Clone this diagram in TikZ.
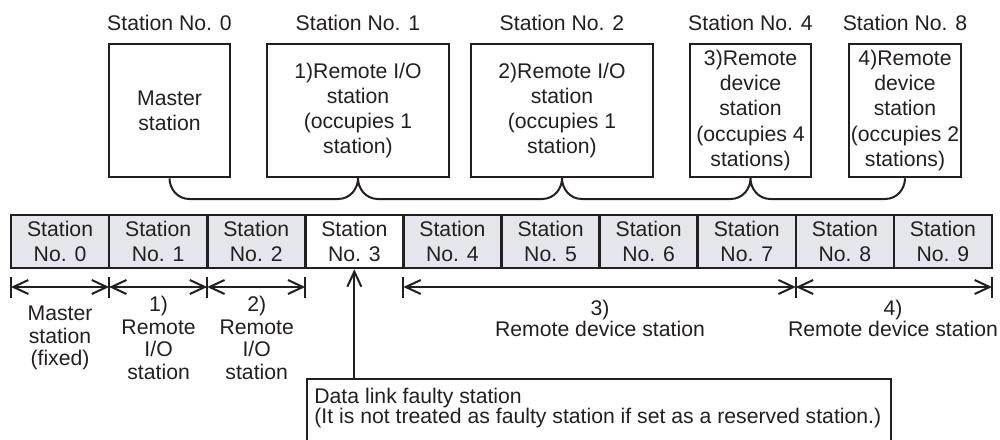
\documentclass[tikz,border=0pt]{standalone}
\usepackage{fontspec}
\setmainfont{Liberation Sans}
\usetikzlibrary{arrows.meta}
\definecolor{ink}{RGB}{35,31,32}
\definecolor{cellfill}{RGB}{228,230,235}
\tikzset{
  txt/.style={font=\fontsize{10.6}{12.6}\selectfont, text=ink, align=center, inner sep=0pt},
  topbox/.style={txt, draw=ink, line width=1.3pt, minimum height=66.5pt},
  cell/.style={txt, draw=ink, line width=1.3pt, minimum width=49.05pt, minimum height=26.5pt},
  toplabel/.style={txt, anchor=base, yshift=6.25pt},
  lbl/.style={txt, font=\fontsize{10.6}{11.3}\selectfont},
  lblwide/.style={txt, font=\fontsize{10.6}{10.5}\selectfont},
  brace/.style={draw=ink, line width=1pt},
  dim/.style={draw=ink, line width=1pt, >={Straight Barb[length=7.5pt,width=7pt]}},
  tick/.style={draw=ink, line width=1pt},
}
\begin{document}
\begin{tikzpicture}[x=0.5pt,y=-0.5pt]
\useasboundingbox (0,0) rectangle (1000,439);
\clip (0,0) rectangle (1000,439);

% top station boxes
\node[topbox, minimum width=60.5pt] (t0) at (169.5,110.5) {Master\\station};
\node[topbox, minimum width=91pt] (t1) at (358,110.5) {1)Remote I/O\\station\\(occupies 1\\station)};
\node[topbox, minimum width=91pt] (t2) at (562,110.5) {2)Remote I/O\\station\\(occupies 1\\station)};
\node[topbox, minimum width=60.5pt] (t4) at (750.5,110.5) {3)Remote\\device\\station\\(occupies 4\\stations)};
\node[topbox, minimum width=56pt] (t8) at (905,110.5) {4)Remote\\device\\station\\(occupies 2\\stations)};

\node[toplabel] (l0) at (t0.north) {Station No. 0};
\node[toplabel] (l1) at (t1.north) {Station No. 1};
\node[toplabel] (l2) at (t2.north) {Station No. 2};
\node[toplabel] (l4) at (t4.north) {Station No. 4};
\node[toplabel] (l8) at (t8.north) {Station No. 8};

% brace connecting the stations
\draw[brace] (t0.south) .. controls (169.5,189) and (177.5,199) .. (189.5,199)
  -- (338,199) .. controls (350,199) and (358,189) .. (t1.south)
  .. controls (358,189) and (366,199) .. (378,199)
  -- (542,199) .. controls (554,199) and (562,189) .. (t2.south)
  .. controls (562,189) and (570,199) .. (582,199)
  -- (730.5,199) .. controls (742.5,199) and (750.5,189) .. (t4.south)
  .. controls (750.5,189) and (758.5,199) .. (770.5,199)
  -- (885,199) .. controls (897,199) and (905,189) .. (t8.south);

% station row
\foreach \i/\f in {0/cellfill,1/cellfill,2/cellfill,3/white,4/cellfill,5/cellfill,6/cellfill,7/cellfill,8/cellfill,9/cellfill}
  \node[cell, fill=\f] (c\i) at ({11+98.1*(\i+0.5)},241.5) {Station\\No. \i};

% dimension lines
\foreach \i in {0,1,2,3,4,8,10}
  \coordinate (d\i) at ({11+98.1*\i},287);
\foreach \i in {0,1,2,3,4,8,10}
  \draw[tick] ([yshift=5pt]d\i) -- ([yshift=-5.5pt]d\i);
\draw[dim,<->] (d0) -- (d1);
\draw[dim,<->] (d1) -- (d2);
\draw[dim,<->] (d2) -- (d3);
\draw[dim,<->] (d4) -- (d8);
\draw[dim,<->] (d8) -- (d10);

% labels under the dimension lines
\node[lbl] (m0) at (60,338) {Master\\station\\(fixed)};
\node[lbl] (m1) at (158.6,338) {1)\\Remote\\I/O\\station};
\node[lbl] (m2) at (256.7,338) {2)\\Remote\\I/O\\station};
\node[lblwide] (m3) at (600,318) {3)\\Remote device station};
\node[lblwide] (m4) at (893,318) {4)\\Remote device station};

% callout
\node[draw=ink, line width=1pt, minimum width=292pt, minimum height=45pt, anchor=north west, inner sep=0pt] (call) at (306,378) {};
\node[txt, align=left, anchor=north west, font=\fontsize{10.6}{10.3}\selectfont] (calltxt) at (314,387.5)
  {Data link faulty station\\(It is not treated as faulty station if set as a reserved station.)};
\draw[dim,->] (call.north -| c3.south) -- (c3.south);
\end{tikzpicture}
\end{document}
